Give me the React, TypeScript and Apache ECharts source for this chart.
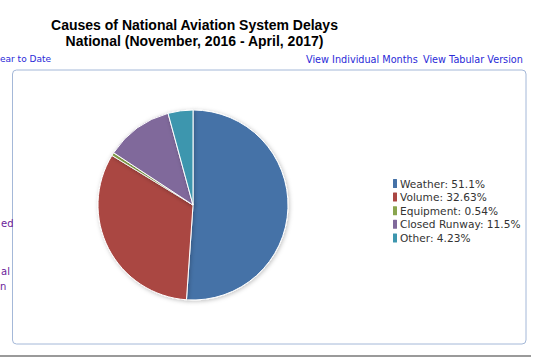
import React, { useEffect, useRef } from "react";
import * as echarts from "echarts";

const categories = ["Weather", "Volume", "Equipment", "Closed Runway", "Other"];
const values = [51.1, 32.63, 0.54, 11.5, 4.23];
const colors = ["#4572A7", "#AA4643", "#89A54E", "#80699B", "#3D96AE"];
const titleLines = ["Causes of National Aviation System Delays", "National (November, 2016 - April, 2017)"];
const linkTexts = ["ear to Date", "View Individual Months", "View Tabular Version"];
const sideTexts = ["ed", "al", "n"];

export default function App() {
  const ref = useRef<HTMLDivElement>(null);
  useEffect(() => {
    if (!ref.current) return;
    const chart = echarts.init(ref.current, null, { renderer: "svg" });
    const linkFont = { fontFamily: "DejaVu Sans", fontSize: 9.7 };
    chart.setOption({
      animation: false,
      backgroundColor: "#ffffff",
      legend: {
        orient: "vertical",
        left: 386,
        top: 172,
        icon: "roundRect",
        itemWidth: 6,
        itemHeight: 11,
        itemGap: 0.6,
        data: categories,
        formatter: (name: string) => {
          const i = categories.indexOf(name);
          return `${name}: ${values[i]}%`;
        },
        textStyle: {
          fontFamily: "DejaVu Sans",
          fontSize: 10.6,
          lineHeight: 11,
          color: "#333333",
          padding: [0, 0, 0, -3],
        },
      },
      series: [
        {
          type: "pie",
          center: [193, 205],
          radius: 95,
          startAngle: 90,
          clockwise: true,
          label: { show: false },
          labelLine: { show: false },
          emphasis: { disabled: true },
          itemStyle: {
            borderColor: "#ffffff",
            borderWidth: 1,
            shadowBlur: 4,
            shadowColor: "rgba(0,0,0,0.25)",
            shadowOffsetX: 1,
            shadowOffsetY: 1,
          },
          data: categories.map((c, i) => ({ name: c, value: values[i], itemStyle: { color: colors[i] } })),
        },
      ],
      graphic: [
        {
          type: "rect",
          z: -1,
          shape: { x: 12.5, y: 70, width: 513.5, height: 274, r: 4 },
          style: { fill: "none", stroke: "#a4b8d8", lineWidth: 1 },
        },
        {
          type: "line",
          shape: { x1: 0, y1: 356, x2: 531, y2: 356 },
          style: { stroke: "#9a9a9a", lineWidth: 2 },
        },
        {
          type: "text",
          x: 194.5,
          y: 25,
          style: {
            text: titleLines[0],
            fontFamily: "Liberation Sans",
            fontWeight: "bold",
            fontSize: 14,
            fill: "#000",
            textAlign: "center",
            textVerticalAlign: "middle",
          },
        },
        {
          type: "text",
          x: 194.5,
          y: 41,
          style: {
            text: titleLines[1],
            fontFamily: "Liberation Sans",
            fontWeight: "bold",
            fontSize: 14,
            fill: "#000",
            textAlign: "center",
            textVerticalAlign: "middle",
          },
        },
        {
          type: "text",
          x: 0,
          y: 59,
          style: { text: linkTexts[0], ...linkFont, fontSize: 9, fill: "#2a2ad8", textAlign: "left", textVerticalAlign: "middle" },
        },
        {
          type: "text",
          x: 306,
          y: 59,
          style: { text: linkTexts[1], ...linkFont, fill: "#2a2ad8", textAlign: "left", textVerticalAlign: "middle" },
        },
        {
          type: "text",
          x: 423,
          y: 59,
          style: { text: linkTexts[2], ...linkFont, fill: "#2a2ad8", textAlign: "left", textVerticalAlign: "middle" },
        },
        {
          type: "text",
          x: 1,
          y: 223,
          style: { text: sideTexts[0], ...linkFont, fontSize: 10, fill: "#6a1b9a", textAlign: "left", textVerticalAlign: "middle" },
        },
        {
          type: "text",
          x: 1,
          y: 271,
          style: { text: sideTexts[1], ...linkFont, fontSize: 10, fill: "#6a1b9a", textAlign: "left", textVerticalAlign: "middle" },
        },
        {
          type: "text",
          x: 0,
          y: 286,
          style: { text: sideTexts[2], ...linkFont, fontSize: 10, fill: "#6a1b9a", textAlign: "left", textVerticalAlign: "middle" },
        },
      ],
    });
    return () => chart.dispose();
  }, []);
  return (
    <div
      ref={ref}
      style={{ position: "fixed", left: 0, top: 0, width: 540, height: 357 }}
    />
  );
}
